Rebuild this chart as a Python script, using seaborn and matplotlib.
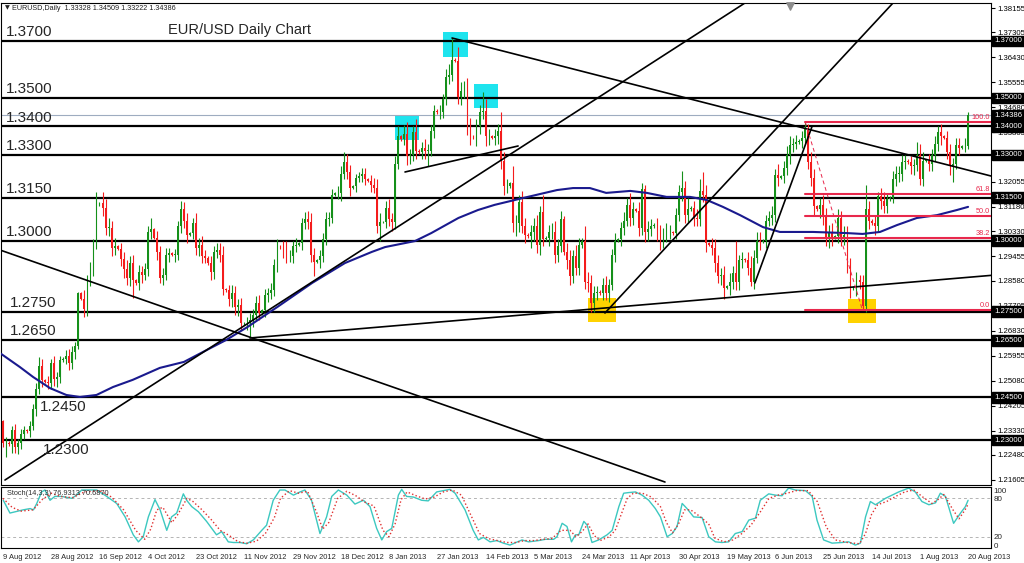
import numpy as np
import matplotlib
matplotlib.use("Agg")
import matplotlib.pyplot as plt
import matplotlib.transforms as mtransforms
from matplotlib.patches import Rectangle
import seaborn as sns

# daily bars, prices in pips (12290 -> 1.2290)
first_open = 12365
closes = [
    12290, 12290, 12285, 12335, 12275, 12290, 12320, 12335, 12330, 12350, 12410, 12480, 12560, 12510, 12505, 12500,
    12570, 12515, 12520, 12580, 12585, 12595, 12570, 12610, 12630, 12815, 12795, 12760, 12860, 12900, 12990, 13125,
    13130, 13115, 13045, 13045, 12975, 12980, 12970, 12935, 12900, 12870, 12920, 12860, 12850, 12890, 12880, 12900,
    13030, 13040, 13010, 12960, 12870, 12880, 12950, 12955, 12950, 12950, 13050, 13110, 13070, 13020, 13025, 13060,
    12975, 12985, 12945, 12940, 12920, 12890, 12960, 12965, 12950, 12830, 12825, 12795, 12815, 12765, 12775, 12710,
    12710, 12710, 12720, 12740, 12780, 12745, 12755, 12810, 12815, 12825, 12915, 12980, 12975, 12970, 12945, 12945,
    12980, 12985, 12990, 13060, 13075, 13065, 12950, 12925, 12930, 12945, 13005, 13075, 13080, 13160, 13165, 13165,
    13235, 13275, 13240, 13185, 13190, 13220, 13225, 13235, 13215, 13210, 13195, 13185, 13050, 13065, 13065, 13115,
    13075, 13065, 13270, 13365, 13355, 13375, 13295, 13300, 13380, 13315, 13310, 13325, 13315, 13315, 13385, 13455,
    13450, 13450, 13495, 13575, 13580, 13635, 13630, 13505, 13525, 13525, 13400, 13365, 13360, 13400, 13450, 13455,
    13365, 13365, 13360, 13365, 13385, 13280, 13190, 13190, 13200, 13060, 13060, 13135, 13050, 13020, 13015, 13030,
    13050, 12985, 13100, 13005, 13010, 13030, 13030, 12950, 12980, 13075, 12960, 12930, 12875, 12945, 12905, 12985,
    13000, 12855, 12850, 12780, 12815, 12820, 12815, 12845, 12815, 12845, 12950, 13000, 13005, 13045, 13070, 13125,
    13080, 13110, 13105, 13045, 13180, 13030, 13040, 13050, 13055, 13025, 12995, 13020, 13030, 13030, 13025, 13090,
    13170, 13185, 13090, 13110, 13115, 13080, 13075, 13175, 13160, 12990, 12985, 12975, 12920, 12875, 12880, 12835,
    12840, 12855, 12885, 12855, 12930, 12935, 12930, 12905, 12855, 12940, 13000, 12995, 13000, 13070, 13080, 13090,
    13230, 13220, 13225, 13255, 13300, 13335, 13340, 13345, 13350, 13360, 13390, 13275, 13220, 13120, 13110, 13125,
    13085, 13010, 13025, 13010, 13015, 13080, 13010, 13020, 12915, 12830, 12835, 12860, 12855, 12770, 13110, 13070,
    13060, 13050, 13155, 13140, 13120, 13145, 13150, 13215, 13235, 13235, 13275, 13280, 13275, 13260, 13265, 13300,
    13215, 13280, 13280, 13270, 13300, 13340, 13380, 13365, 13360, 13310, 13260, 13270, 13335, 13325, 13330, 13333,
    13439]
# wick lengths above / below the candle body, in pips
wick_up = [
    5, 20, 5, 15, 20, 15, 20, 15, 5, 15, 15, 20, 30, 25, 5, 20,
    15, 25, 20, 15, 5, 20, 25, 20, 15, 5, 5, 30, 20, 25, 15, 45,
    5, 40, 30, 35, 25, 30, 5, 20, 25, 30, 25, 30, 5, 25, 20, 20,
    20, 40, 5, 25, 20, 25, 25, 20, 5, 20, 20, 30, 25, 25, 5, 20,
    35, 25, 30, 20, 5, 25, 20, 25, 25, 30, 5, 20, 30, 25, 20, 25,
    5, 20, 25, 20, 25, 30, 5, 20, 20, 25, 20, 25, 5, 25, 30, 20,
    20, 25, 5, 20, 25, 30, 30, 25, 5, 20, 20, 25, 20, 20, 5, 25,
    25, 35, 30, 25, 5, 15, 15, 20, 20, 5, 20, 25, 30, 30, 5, 25,
    30, 20, 25, 35, 5, 30, 40, 20, 20, 45, 5, 20, 30, 25, 20, 20,
    5, 25, 20, 25, 40, 76, 5, 50, 30, 35, 45, 30, 5, 25, 25, 65,
    40, 25, 5, 25, 25, 65, 30, 25, 5, 60, 30, 25, 40, 30, 5, 25,
    30, 40, 20, 60, 5, 25, 30, 40, 25, 30, 10, 30, 35, 20, 40, 25,
    10, 50, 35, 30, 25, 20, 5, 25, 30, 20, 20, 25, 5, 20, 30, 25,
    40, 25, 5, 30, 20, 15, 30, 25, 5, 25, 30, 25, 30, 25, 5, 25,
    25, 60, 25, 40, 5, 25, 30, 40, 65, 35, 5, 25, 30, 30, 25, 30,
    5, 30, 25, 115, 20, 25, 5, 30, 40, 25, 30, 30, 5, 20, 25, 30,
    20, 40, 5, 25, 30, 30, 20, 25, 5, 25, 25, 20, 35, 30, 5, 25,
    35, 30, 30, 35, 5, 30, 25, 30, 30, 25, 5, 30, 20, 25, 85, 30,
    5, 30, 15, 30, 30, 20, 5, 30, 25, 25, 25, 20, 5, 20, 20, 45,
    40, 30, 5, 25, 20, 25, 20, 30, 5, 25, 30, 20, 25, 25, 5, 25,
    12]
wick_dn = [
    15, 50, 5, 30, 20, 25, 20, 15, 5, 20, 15, 25, 20, 25, 5, 20,
    20, 25, 30, 20, 5, 20, 25, 20, 25, 10, 5, 30, 25, 20, 25, 20,
    5, 30, 25, 30, 30, 25, 5, 25, 30, 25, 30, 60, 5, 25, 30, 20,
    25, 25, 5, 30, 20, 25, 20, 25, 5, 25, 20, 25, 25, 30, 5, 20,
    25, 30, 25, 20, 5, 30, 25, 20, 25, 20, 5, 25, 30, 25, 30, 25,
    5, 25, 50, 25, 20, 25, 5, 25, 25, 20, 20, 25, 5, 30, 25, 20,
    25, 20, 5, 25, 20, 25, 25, 50, 5, 25, 20, 20, 25, 20, 5, 20,
    25, 20, 25, 30, 5, 20, 15, 20, 20, 5, 25, 20, 25, 50, 5, 20,
    25, 30, 25, 20, 5, 20, 30, 25, 20, 30, 5, 25, 30, 55, 20, 25,
    5, 25, 20, 20, 25, 20, 5, 25, 30, 25, 30, 30, 5, 30, 25, 25,
    35, 30, 5, 25, 25, 30, 30, 25, 5, 30, 45, 30, 25, 30, 5, 40,
    30, 30, 35, 25, 5, 30, 25, 30, 25, 20, 10, 30, 30, 25, 25, 25,
    10, 25, 30, 30, 30, 25, 5, 25, 25, 30, 20, 25, 5, 25, 25, 20,
    30, 25, 5, 30, 25, 35, 30, 25, 5, 25, 30, 20, 25, 25, 5, 20,
    20, 30, 30, 25, 5, 30, 25, 25, 25, 30, 5, 25, 30, 25, 30, 40,
    5, 30, 25, 30, 30, 25, 5, 25, 15, 25, 20, 30, 5, 25, 20, 25,
    25, 30, 5, 25, 25, 30, 25, 20, 5, 25, 20, 25, 30, 30, 5, 30,
    30, 30, 35, 30, 5, 25, 30, 25, 30, 30, 5, 30, 25, 15, 20, 30,
    5, 30, 20, 30, 25, 25, 5, 20, 25, 30, 25, 25, 5, 25, 30, 20,
    20, 25, 5, 25, 25, 20, 25, 30, 5, 25, 30, 55, 20, 25, 5, 20,
    11]

date_labels = ["9 Aug 2012", "28 Aug 2012", "16 Sep 2012", "4 Oct 2012", "23 Oct 2012",
               "11 Nov 2012", "29 Nov 2012", "18 Dec 2012", "8 Jan 2013", "27 Jan 2013",
               "14 Feb 2013", "5 Mar 2013", "24 Mar 2013", "11 Apr 2013", "30 Apr 2013",
               "19 May 2013", "6 Jun 2013", "25 Jun 2013", "14 Jul 2013", "1 Aug 2013", "20 Aug 2013"]

# moving average (blue line), bar position / price
ma_i = [-1, 5.6, 10, 15.6, 21, 25.5, 31, 36.5, 43, 52, 60, 67.6, 74, 81, 91, 102.5, 113.4, 122.3,
        126.7, 136.6, 142, 151, 157.5, 163, 172.4, 183.7, 189, 194.6, 200, 208, 213.5, 220, 227.8,
        233.4, 238.7, 244.4, 252, 257.6, 268.6, 279.8, 285, 290.8, 296.4, 303, 309.7, 316.3, 320]
ma_v = [1.2605, 1.2556, 1.2521, 1.2482, 1.2458, 1.2451, 1.2458, 1.2486, 1.2511, 1.2553, 1.2574,
        1.2616, 1.2651, 1.2696, 1.2767, 1.2851, 1.2921, 1.2960, 1.2977, 1.2998, 1.3026, 1.3079,
        1.3107, 1.3125, 1.3149, 1.3177, 1.3184, 1.3184, 1.3167, 1.3174, 1.3167, 1.3153, 1.3153,
        1.3142, 1.3118, 1.3089, 1.3047, 1.3030, 1.3030, 1.3026, 1.3023, 1.3030, 1.3054, 1.3079,
        1.3089, 1.3107, 1.3118]

# stochastic %K and signal
stoch_i = [0.1, 2.3, 4.0, 6.7, 9.0, 10.1, 11.2, 12.8, 13.9, 15.6, 17.2, 19.5, 22.8, 24.4, 26.1,
           31.1, 34.4, 37.7, 40.5, 43.2, 44.9, 46.5, 48.2, 50.4, 52.1, 54.3, 55.9, 57.6, 59.8, 60.9,
           62.6, 64.8, 67.5, 70.8, 72.5, 74.7, 76.4, 78.6, 80.8, 83.0, 85.8, 87.4, 89.6, 91.8, 93.5,
           96.3, 98.5, 100.1, 102.3, 105.1, 107.3, 109.0, 111.2, 114.0, 116.7, 119.5, 121.7, 123.9,
           125.6, 127.2, 128.9, 131.1, 132.2, 133.8, 136.1, 138.8, 141.0, 143.8, 146.0, 148.2, 149.9,
           153.2, 155.9, 157.6, 159.3, 161.5, 163.7, 165.9, 168.1,
           172.1, 174.3, 177.6, 179.9, 182.6, 183.7, 185.4, 187.0, 188.5, 189.8, 190.9, 192.6, 193.7,
           195.3, 197.5, 200.3, 202.0, 204.2, 205.8, 207.5, 209.7, 211.9, 214.1, 216.3, 218.0, 220.2,
           221.9, 223.5, 225.2, 226.8, 229.0, 231.8, 234.0, 236.2, 238.4, 240.6, 242.8, 245.1, 247.3,
           249.5, 251.1, 253.9, 256.1, 258.3, 260.5, 262.7, 266.1, 268.3, 269.9, 272.1, 274.9, 278.2,
           280.4, 282.6, 284.3, 286.0, 287.6, 289.3, 292.6, 294.8, 297.0, 300.3, 302.5, 304.7, 307.0,
           309.2, 310.8, 312.5, 315.2, 317.5, 319.1, 320.0]
stoch_k = [77, 57, 59, 62, 64, 62, 72, 90, 93, 77, 83, 83, 80, 85, 93,
           93, 83, 72, 51, 23, 12, 20, 51, 78, 62, 30, 51, 57, 87, 77,
           67, 59, 44, 23, 28, 12, 11, 11, 9, 15, 30, 38, 77, 93, 93,
           85, 90, 93, 77, 25, 51, 83, 93, 85, 71, 77, 67, 33,
           15, 28, 33, 85, 94, 83, 82, 77, 76, 90, 92, 94, 88,
           62, 30, 15, 19, 12, 14, 10, 7,
           15, 12, 14, 16, 16, 20, 41, 36, 12, 23, 23, 44, 38,
           11, 15, 23, 30, 67, 88, 89, 90, 85, 77, 64, 51, 20,
           25, 36, 72, 64, 51, 50, 20, 12, 11, 12, 25, 28, 46,
           49, 77, 87, 85, 84, 96, 93, 92, 83, 46, 15, 10, 11,
           12, 7, 10, 51, 75, 70, 80, 85, 90, 96, 90, 75, 70,
           73, 88, 83, 41, 57, 67, 76.9]
sig_i = [0, 3, 6, 10, 13, 16, 19, 23, 27, 32, 36, 40, 44, 47, 49, 51, 53, 56, 58, 61,
         63, 66, 69, 72, 75, 78, 81, 84, 87, 90, 92, 95, 98, 101, 104, 106, 108, 111, 114, 117,
         120, 123, 126, 128, 130, 132, 134, 137, 140, 143, 146, 149, 152, 155, 158, 161, 164, 167, 170, 173,
         176, 179, 182, 185, 188, 190, 192, 194, 196, 198, 201, 203, 205, 207, 209, 212, 215, 218, 220, 222,
         224, 226, 228, 231, 234, 236, 239, 242, 245, 248, 251, 254, 257, 260, 263, 267, 270, 273, 276, 280,
         284, 286, 288, 290, 293, 296, 299, 302, 305, 308, 310, 312, 315, 317, 319, 320]
sig_d = [80, 66, 60, 62, 78, 88, 83, 81, 90, 92, 82, 62, 30, 16, 32, 62, 66, 42, 55, 80,
         75, 62, 47, 30, 22, 12, 10, 13, 25, 50, 80, 92, 88, 91, 58, 32, 42, 80, 91, 84,
         74, 68, 30, 20, 40, 78, 90, 84, 79, 82, 90, 93, 85, 55, 25, 17, 14, 11, 11, 14,
         14, 16, 17, 30, 30, 20, 28, 40, 22, 14, 20, 30, 55, 80, 88, 88, 82, 67, 42, 26,
         40, 62, 62, 52, 40, 18, 12, 15, 25, 38, 58, 80, 85, 88, 92, 92, 75, 35, 15, 11,
         9, 25, 55, 70, 75, 83, 90, 93, 82, 72, 78, 86, 62, 48, 62, 70.7]

# horizontal support / resistance levels and their left labels
levels = [1.37, 1.35, 1.34, 1.33, 1.315, 1.30, 1.275, 1.265, 1.245, 1.23]
level_lab_x = [1, 1, 1, 1, 1, 1, 2.3, 2.3, 12.3, 13.3]
level_lab_below = [False, False, False, False, False, False, False, False, True, True]

# drawn trend lines: (bar, price) -> (bar, price)
tl_x0 = [-1, 0.66, 81.9, 148.9, 199.6, 249.3, 133.3]
tl_p0 = [1.29667, 1.21596, 1.26579, 1.37105, 1.27456, 1.28509, 1.32404]
tl_x1 = [219.5, 246.0, 327.6, 327.6, 295.1, 268.2, 170.8]
tl_p1 = [1.21526, 1.38333, 1.28776, 1.32263, 1.38333, 1.33982, 1.33316]

# fibonacci retracement (June high -> July low)
fib_start, fib_end = 266, 285
fib_hi, fib_lo = 1.3416, 1.2755
fib_levels = [0.0, 38.2, 50.0, 61.8, 100.0]

# highlight boxes
box_i0 = [130.0, 145.9, 156.2, 194.0, 280.2]
box_i1 = [137.9, 154.2, 164.1, 203.2, 289.5]
box_lo = [1.3353, 1.3644, 1.3465, 1.2714, 1.2711]
box_hi = [1.3440, 1.3732, 1.3549, 1.2798, 1.2795]
box_col = ["#1ee4ee", "#1ee4ee", "#1ee4ee", "#ffd200", "#ffd200"]

right_ticks = [1.38155, 1.37305, 1.36430, 1.35555, 1.34680, 1.33805, 1.32055, 1.31180,
               1.30330, 1.29455, 1.28580, 1.27705, 1.26830, 1.25955, 1.25080, 1.24205, 1.23330,
               1.22480, 1.21605]
boxed_prices = [1.37, 1.35, 1.34386, 1.34, 1.33, 1.315, 1.30, 1.275, 1.265, 1.245, 1.23]
last_price = 1.34386

sns.set_style("white")
plt.rcParams['font.family'] = ['DejaVu Sans']
small = "Liberation Sans"

fig = plt.figure(figsize=(10.24, 5.63), dpi=100)
ax = fig.add_axes([1/1024, 78/563, 990/1024, 482/563])
ax2 = fig.add_axes([1/1024, 15/563, 990/1024, 61/563], sharex=ax)
x_lo, x_hi = -0.66, 327.6

# candles
c = np.array(closes) / 1e4
o = np.r_[first_open / 1e4, c[:-1]]
h = np.maximum(o, c) + np.array(wick_up) / 1e4
l = np.minimum(o, c) - np.array(wick_dn) / 1e4
x = np.arange(len(c))
col = np.where(c >= o, "#15901a", "#f41c1c")
ax.vlines(x, l, h, colors=col, lw=0.8, zorder=3)
ax.bar(x, np.maximum(np.abs(c - o), 0.00012), bottom=np.minimum(o, c), width=0.62,
       color=col, lw=0, zorder=3)

for i0, i1, lo, hi, bc in zip(box_i0, box_i1, box_lo, box_hi, box_col):
    ax.add_patch(Rectangle((i0, lo), i1 - i0, hi - lo, fc=bc, ec="none", zorder=1))

for p, lx, below in zip(levels, level_lab_x, level_lab_below):
    ax.axhline(p, color="black", lw=1.6, zorder=2)
    ax.annotate(f"{p:.4f}", xy=(lx, p), xytext=(0, -2 if below else 3.5), textcoords="offset points",
                va="top" if below else "baseline", ha="left", fontsize=11,
                family="Liberation Sans", zorder=6)
ax.axhline(last_price, color="#9eacc0", lw=0.8, zorder=2)

sns.lineplot(x=ma_i, y=ma_v, ax=ax, color="#1a1a8e", lw=1.5, zorder=4, sort=False, estimator=None)

for a0, q0, a1, q1 in zip(tl_x0, tl_p0, tl_x1, tl_p1):
    ax.plot([a0, a1], [q0, q1], color="black", lw=1.2, zorder=5)

fib_col = "#e8284c"
for lv in fib_levels:
    p = fib_lo + lv / 100 * (fib_hi - fib_lo)
    ax.plot([fib_start, x_hi + 1], [p, p], color=fib_col, lw=1.5, zorder=5)
    ax.text(x_hi - 0.3, p + 0.0004, f"{lv:.1f}", color=fib_col, fontsize=5.3, family=small,
            ha="right", va="bottom", zorder=6)
ax.plot([fib_start, fib_end], [fib_hi, fib_lo], color=fib_col, lw=0.7, ls=(0, (4, 3)), zorder=5)

ax.set_xlim(x_lo, x_hi)
ax.set_ylim(1.214211, 1.383333)
ax.yaxis.tick_right()
ax.set_yticks(right_ticks)
ax.set_yticklabels([f"{v:.5f}" for v in right_ticks], fontsize=5.6, family=small)
ax.tick_params(axis="y", length=3, width=0.8, pad=1.5, direction="out", colors="black")
ax.tick_params(axis="x", bottom=False, labelbottom=False)
ax.set_xlabel("")
ax.set_ylabel("")
for s in ax.spines.values():
    s.set_color("black")
    s.set_linewidth(0.8)

trans = mtransforms.blended_transform_factory(ax.transAxes, ax.transData)
for p in boxed_prices:
    ax.annotate(f"{p:.5f}", xy=(1, p), xycoords=trans, xytext=(2.2, 0), textcoords="offset points",
                color="white", fontsize=5.6, family=small, va="center", ha="left",
                annotation_clip=False,
                bbox=dict(boxstyle="square,pad=0.25", fc="black", ec="black"))

ax.scatter([0.797], [0.994], marker="v", s=28, color="#8c8c8c", transform=ax.transAxes,
           clip_on=False, zorder=7)

# stochastic panel
ax2.axhline(80, color="#b4b4b4", lw=0.7, ls=(0, (3, 3)))
ax2.axhline(20, color="#b4b4b4", lw=0.7, ls=(0, (3, 3)))
sns.lineplot(x=stoch_i, y=stoch_k, ax=ax2, color="#3cc8c0", lw=1.0, sort=False, estimator=None)
sns.lineplot(x=sig_i, y=sig_d, ax=ax2, color="#e03030", lw=1.0, ls=":", sort=False, estimator=None)
ax2.set_ylim(2.4, 97.7)
ax2.yaxis.tick_right()
ax2.set_yticks([93, 80, 20, 7])
ax2.set_yticklabels(["100", "80", "20", "0"], fontsize=5.8, family=small)
ax2.tick_params(axis="y", length=0, pad=2)
ax2.set_xticks(np.arange(0, len(c), 16))
ax2.set_xticklabels(date_labels, fontsize=5.4, family=small, ha="left")
ax2.tick_params(axis="x", length=3, width=0.8, pad=1, direction="out")
ax2.set_xlim(x_lo, x_hi)
ax2.set_xlabel("")
ax2.set_ylabel("")
for s in ax2.spines.values():
    s.set_color("black")
    s.set_linewidth(0.8)
ax2.text(0.006, 0.95, "Stoch(14,3,3) 76.9313 70.6870", transform=ax2.transAxes,
         fontsize=5.3, family=small, va="top", color="#303030")

fig.text(5/1024, 1 - 8/563, "\u25bc", fontsize=4.5, va="center", color="#202020")
fig.text(12/1024, 1 - 8/563, "EURUSD,Daily  1.33328 1.34509 1.33222 1.34386",
         fontsize=5.2, family=small, va="center", color="#202020")
fig.text(168/1024, 1 - 34/563, "EUR/USD Daily Chart", fontsize=10.5, family="Liberation Sans",
         va="baseline", ha="left")

fig.savefig("out.png", dpi=100)
